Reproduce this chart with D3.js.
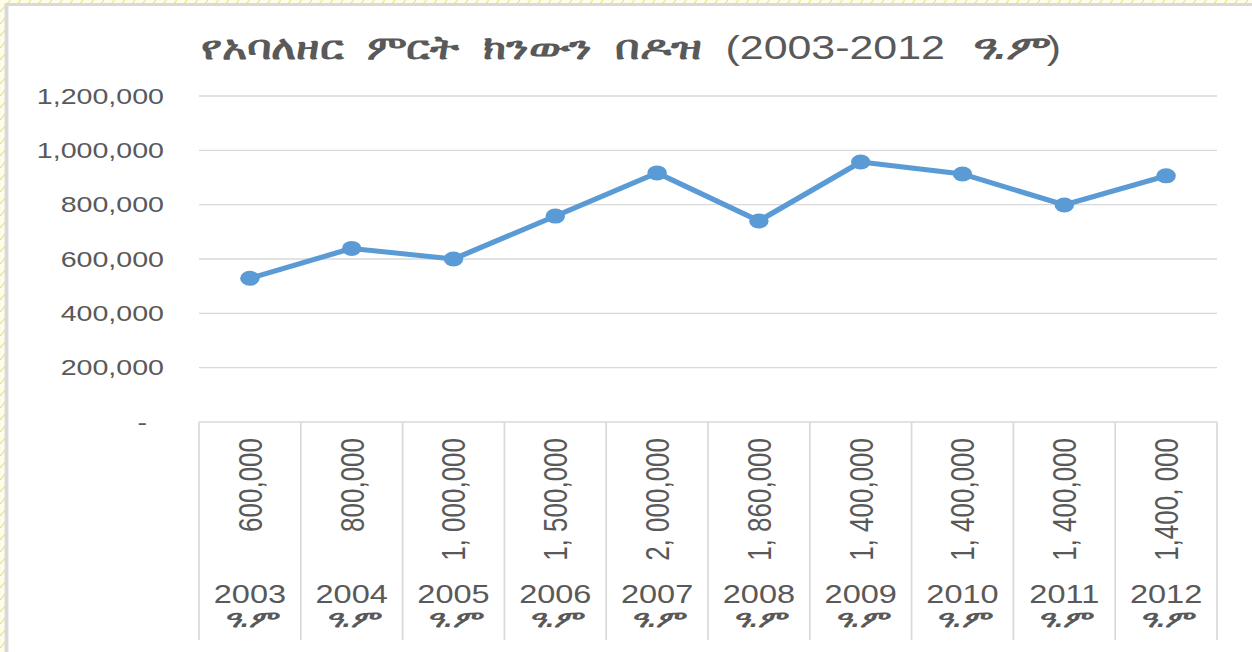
<!DOCTYPE html>
<html>
<head>
<meta charset="utf-8">
<script src="https://cdn.jsdelivr.net/npm/d3@7"></script>
<style>
  html, body { margin: 0; padding: 0; background: #fffdea; }
  svg { display: block; }
  text { font-family: "Liberation Sans", Arial, sans-serif; fill: #595959; }
</style>
</head>
<body>
<div id="chart"></div>
<script>
// chart data
const years = ["2003", "2004", "2005", "2006", "2007", "2008", "2009", "2010", "2011", "2012"];
const eraLabel = "ዓ.ም";
const plannedLabels = ["600,000", "800,000", "1, 000,000", "1, 500,000", "2, 000,000",
  "1, 860,000", "1, 400,000", "1, 400,000", "1, 400,000", "1,400, 000"];
const produced = [529000, 639000, 600000, 758000, 917000, 740000, 957000, 913000, 799000, 906000];
const yTicks = [0, 200000, 400000, 600000, 800000, 1000000, 1200000];
const titleParts = ["የአባለዘር  ምርት  ክንውን  በዶዝ", "  (2003-2012  ", "ዓ.ም", ")"];

let width = 1252, height = 652,
  sx = 1.3, // the picture is stretched horizontally
  vw = width / sx,
  margin = {top: 96, right: 1217 / sx, bottom: 422, left: 199 / sx};

let svg = d3.select("#chart")
  .append("svg")
  .attr("width", width)
  .attr("height", height)
  .attr("viewBox", "0 0 " + vw + " " + height)
  .attr("preserveAspectRatio", "none");

// slide background hatching
let pat = svg.append("defs").append("pattern")
  .attr("id", "hatch")
  .attr("patternUnits", "userSpaceOnUse")
  .attr("width", 8).attr("height", 12);
pat.append("rect").attr("width", 8).attr("height", 12).attr("fill", "#fffdea");
pat.append("path")
  .attr("d", "M0,12 L8,0")
  .attr("stroke", "#d8e477")
  .attr("stroke-width", 0.8);

svg.append("rect")
  .attr("width", vw).attr("height", height)
  .attr("fill", "url(#hatch)");

svg.append("rect")
  .attr("x", 6.5 / sx).attr("y", 4.5)
  .attr("width", vw).attr("height", height + 10)
  .attr("fill", "#fff")
  .attr("stroke", "#d9d9d9")
  .attr("stroke-width", 3);

let x = d3.scaleBand()
  .domain(years)
  .range([margin.left, margin.right]);

let y = d3.scaleLinear()
  .domain([0, 1200000])
  .range([margin.bottom, margin.top]);

// gridlines
svg.append("g")
  .selectAll("line")
  .data(yTicks.filter(d => d > 0))
  .join("line")
  .attr("x1", margin.left).attr("x2", margin.right)
  .attr("y1", d => y(d)).attr("y2", d => y(d))
  .attr("stroke", "#d9d9d9")
  .attr("stroke-width", 1.3);

// y axis
let yaxis = d3.axisLeft(y)
  .tickValues(yTicks)
  .tickSize(0)
  .tickPadding(0)
  .tickFormat(d => d === 0 ? "-" : d3.format(",")(d));

let yg = svg.append("g")
  .attr("transform", "translate(" + (164 / sx) + ",0)")
  .call(yaxis);
yg.select(".domain").remove();
yg.selectAll("text")
  .style("font-size", "22px")
  .attr("fill", "#595959");
yg.selectAll(".tick").filter(d => d === 0).select("text")
  .attr("x", -17 / sx);

// category table
let table = svg.append("g");
table.append("line")
  .attr("x1", margin.left).attr("x2", margin.right)
  .attr("y1", y(0)).attr("y2", y(0))
  .attr("stroke", "#d9d9d9").attr("stroke-width", 1.3);
table.selectAll("line.sep")
  .data(years.concat(["end"]))
  .join("line")
  .attr("class", "sep")
  .attr("x1", (d, i) => i < years.length ? x(d) : margin.right)
  .attr("x2", (d, i) => i < years.length ? x(d) : margin.right)
  .attr("y1", y(0)).attr("y2", 640)
  .attr("stroke", "#d9d9d9").attr("stroke-width", 1.3);

let cx = d => x(d) + x.bandwidth() / 2;

table.selectAll("text.plan")
  .data(years)
  .join("text")
  .attr("class", "plan")
  .attr("transform", d => "translate(" + cx(d) + ",438) rotate(-90)")
  .attr("dy", "0.35em")
  .attr("text-anchor", "end")
  .style("font-size", "26px")
  .text((d, i) => plannedLabels[i]);

table.selectAll("text.year")
  .data(years)
  .join("text")
  .attr("class", "year")
  .attr("x", cx)
  .attr("y", 603)
  .attr("text-anchor", "middle")
  .style("font-size", "25px")
  .text(d => d);

table.selectAll("text.era")
  .data(years)
  .join("text")
  .attr("class", "era")
  .attr("x", cx)
  .attr("y", 627)
  .attr("text-anchor", "middle")
  .style("font-size", "23px")
  .style("font-style", "italic")
  .style("font-weight", "bold")
  .text(eraLabel);

// line and markers
let line = d3.line()
  .x((d, i) => cx(years[i]))
  .y(d => y(d));

svg.append("path")
  .datum(produced)
  .attr("d", line)
  .attr("fill", "none")
  .attr("stroke", "#5b9bd5")
  .attr("stroke-width", 5)
  .attr("stroke-linejoin", "round");

svg.append("g")
  .selectAll("circle")
  .data(produced)
  .join("circle")
  .attr("cx", (d, i) => cx(years[i]))
  .attr("cy", d => y(d))
  .attr("r", 7.5)
  .attr("fill", "#5b9bd5");

// title
let t = svg.append("text")
  .attr("x", 631 / sx)
  .attr("y", 59)
  .attr("text-anchor", "middle")
  .style("font-size", "33px")
  .style("white-space", "pre");
t.selectAll("tspan")
  .data(titleParts)
  .join("tspan")
  .style("font-weight", (d, i) => i % 2 === 0 ? "bold" : "normal")
  .style("font-style", (d, i) => i === 2 ? "italic" : "normal")
  .text(d => d);
</script>
</body>
</html>
